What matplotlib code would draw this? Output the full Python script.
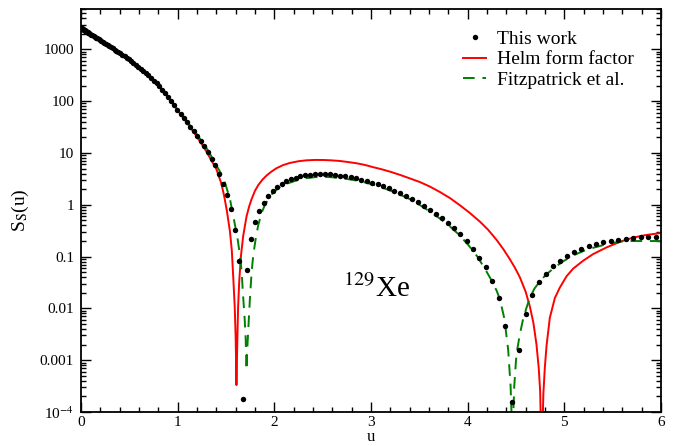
# S_S(u) structure function for 129Xe
import numpy as np
import matplotlib
matplotlib.use('Agg')
import matplotlib.pyplot as plt
from matplotlib.ticker import FixedLocator, LogLocator, MultipleLocator, NullFormatter

plt.rcParams['font.family'] = ['Liberation Serif', 'DejaVu Serif']
plt.rcParams['mathtext.fontset'] = 'stix'

# This work (dots), log10 of S_S(u)
u_dots = [0.0, 0.00027, 0.00107, 0.00241, 0.00429, 0.0067, 0.00965, 0.01313, 0.01715, 0.02171,
          0.0268, 0.03243, 0.03859, 0.04529, 0.05252, 0.0603, 0.0686, 0.07745, 0.08683, 0.09674,
          0.1072, 0.1182, 0.1297, 0.1418, 0.1544, 0.1675, 0.1812, 0.1954, 0.2101, 0.2254,
          0.2412, 0.2575, 0.2744, 0.2918, 0.3098, 0.3283, 0.3473, 0.3669, 0.3870, 0.4076,
          0.4288, 0.4505, 0.4727, 0.4955, 0.5188, 0.5427, 0.5670, 0.5920, 0.6174, 0.6434,
          0.6700, 0.6970, 0.7246, 0.7528, 0.7814, 0.8106, 0.8404, 0.8707, 0.9015, 0.9328,
          0.9647, 0.9971, 1.0301, 1.0636, 1.0976, 1.1322, 1.1673, 1.2030, 1.2391, 1.2759,
          1.3131, 1.3509, 1.3892, 1.4281, 1.4675, 1.5074, 1.5479, 1.5888, 1.6304, 1.6724,
          1.7151, 1.7582, 1.8019, 1.8461, 1.8909, 1.9362, 1.9820, 2.0283, 2.0752, 2.1227,
          2.1706, 2.2191, 2.2682, 2.3178, 2.3679, 2.4185, 2.4697, 2.5214, 2.5737, 2.6265,
          2.6798, 2.7337, 2.7881, 2.8430, 2.8985, 2.9545, 3.0110, 3.0681, 3.1257, 3.1839,
          3.2426, 3.3018, 3.3615, 3.4218, 3.4826, 3.5440, 3.6059, 3.6684, 3.7313, 3.7949,
          3.8589, 3.9235, 3.9886, 4.0543, 4.1205, 4.1872, 4.2545, 4.3223, 4.3906, 4.4594,
          4.5289, 4.5988, 4.6692, 4.7402, 4.8118, 4.8838, 4.9564, 5.0296, 5.1033, 5.1775,
          5.2524, 5.3277, 5.4035, 5.4799, 5.5568, 5.6342, 5.7122, 5.7907, 5.8698, 5.9494]
log_dots = [3.413, 3.413, 3.412, 3.410, 3.408, 3.405, 3.401, 3.397, 3.392, 3.386,
            3.380, 3.373, 3.366, 3.358, 3.349, 3.340, 3.330, 3.319, 3.308, 3.296,
            3.283, 3.270, 3.256, 3.241, 3.226, 3.210, 3.193, 3.176, 3.158, 3.140,
            3.121, 3.101, 3.081, 3.060, 3.038, 3.016, 2.993, 2.970, 2.946, 2.920,
            2.893, 2.864, 2.835, 2.806, 2.772, 2.736, 2.700, 2.662, 2.622, 2.581,
            2.538, 2.495, 2.446, 2.395, 2.344, 2.287, 2.221, 2.154, 2.086, 2.005,
            1.922, 1.838, 1.758, 1.677, 1.596, 1.510, 1.422, 1.332, 1.234, 1.135,
            1.024, 0.892, 0.758, 0.585, 0.396, 0.190, -0.085, -0.490, -1.090, -3.740,
            -1.250, -0.665, -0.340, -0.120, 0.040, 0.163, 0.258, 0.335, 0.400, 0.453,
            0.490, 0.520, 0.547, 0.568, 0.582, 0.590, 0.592, 0.591, 0.585, 0.577,
            0.564, 0.552, 0.533, 0.508, 0.482, 0.457, 0.424, 0.392, 0.354, 0.315,
            0.275, 0.225, 0.163, 0.106, 0.048, -0.030, -0.100, -0.178, -0.264, -0.356,
            -0.458, -0.573, -0.703, -0.847, -1.022, -1.210, -1.463, -1.807, -2.348, -3.815,
            -2.813, -2.113, -1.749, -1.500, -1.332, -1.188, -1.080, -0.985, -0.914, -0.851,
            -0.805, -0.761, -0.723, -0.698, -0.671, -0.652, -0.641, -0.627, -0.621, -0.621]

# Helm form factor
u_helm = [0.0, 0.2, 0.4, 0.6, 0.8, 0.9, 1.0, 1.1, 1.2, 1.3, 1.35, 1.4, 1.45, 1.48, 1.51,
          1.541, 1.56, 1.575, 1.59, 1.600, 1.608, 1.617, 1.625, 1.637, 1.655, 1.678, 1.713,
          1.74, 1.765, 1.80, 1.834, 1.875, 1.92, 1.97, 2.023, 2.09, 2.161, 2.25, 2.334, 2.42,
          2.506, 2.59, 2.678, 2.76, 2.851, 2.94, 3.023, 3.11, 3.195, 3.299, 3.40, 3.506,
          3.61, 3.712, 3.82, 3.919, 4.02, 4.126, 4.21, 4.30, 4.37, 4.436, 4.49, 4.54, 4.60,
          4.643, 4.68, 4.712, 4.735, 4.750, 4.765, 4.783, 4.798, 4.816, 4.850, 4.902, 4.953,
          5.023, 5.091, 5.195, 5.298, 5.436, 5.574, 5.712, 5.850, 6.0]
log_helm = [3.413, 3.17, 2.93, 2.65, 2.30, 2.08, 1.82, 1.575, 1.31, 1.02, 0.85, 0.69, 0.42,
            0.18, -0.13, -0.52, -0.88, -1.40, -1.96, -2.56, -3.48, -2.64, -1.98, -1.47, -0.98,
            -0.60, -0.22, -0.03, 0.11, 0.27, 0.38, 0.48, 0.565, 0.64, 0.706, 0.765, 0.807,
            0.84, 0.858, 0.865, 0.864, 0.857, 0.845, 0.825, 0.801, 0.767, 0.725, 0.685,
            0.640, 0.577, 0.51, 0.438, 0.35, 0.247, 0.125, -0.009, -0.155, -0.325, -0.48,
            -0.68, -0.86, -1.05, -1.22, -1.40, -1.68, -1.96, -2.28, -2.70, -3.15, -3.60,
            -5.0, -3.65, -3.15, -2.72, -2.18, -1.80, -1.60, -1.38, -1.233, -1.08, -0.952,
            -0.824, -0.717, -0.633, -0.583, -0.545]

# Fitzpatrick et al.
u_fitz = [0.0, 0.2, 0.4, 0.6, 0.8, 0.9, 1.0, 1.1, 1.2, 1.3, 1.35, 1.4, 1.45, 1.49, 1.54,
          1.593, 1.62, 1.644, 1.662, 1.678, 1.693, 1.703, 1.712, 1.721, 1.732, 1.748, 1.765,
          1.782, 1.81, 1.834, 1.87, 1.903, 1.95, 1.989, 2.05, 2.127, 2.23, 2.334, 2.42,
          2.506, 2.59, 2.678, 2.76, 2.851, 2.94, 3.023, 3.11, 3.195, 3.299, 3.40, 3.5, 3.6,
          3.7, 3.8, 3.9, 4.0, 4.1, 4.18, 4.25, 4.30, 4.333, 4.38, 4.419, 4.444, 4.455,
          4.463, 4.471, 4.482, 4.50, 4.512, 4.540, 4.574, 4.61, 4.643, 4.69, 4.747, 4.81,
          4.88, 4.98, 5.09, 5.2, 5.3, 5.44, 5.58, 5.7, 5.85, 6.0]
log_fitz = [3.413, 3.17, 2.93, 2.65, 2.31, 2.09, 1.835, 1.60, 1.355, 1.09, 0.93, 0.76, 0.60,
            0.42, 0.12, -0.39, -0.66, -0.97, -1.30, -1.79, -2.20, -2.56, -3.19, -2.75, -2.35,
            -1.79, -1.30, -0.97, -0.62, -0.39, -0.15, 0.0, 0.14, 0.24, 0.33, 0.405, 0.47,
            0.514, 0.532, 0.539, 0.532, 0.514, 0.495, 0.469, 0.43, 0.386, 0.335, 0.277,
            0.195, 0.11, 0.0, -0.12, -0.25, -0.39, -0.56, -0.76, -1.00, -1.24, -1.47, -1.66,
            -1.82, -2.2, -2.80, -3.50, -4.1, -5.0, -4.1, -3.5, -3.0, -2.80, -2.50, -2.20,
            -1.98, -1.80, -1.62, -1.48, -1.35, -1.24, -1.10, -0.98, -0.89, -0.83, -0.76,
            -0.71, -0.70, -0.70, -0.70]

ytick_vals = [1e-4, 1e-3, 1e-2, 1e-1, 1, 10, 100, 1000]
ytick_labels = [r'10$^{-4}$', '0.001', '0.01', '0.1', '1', '10', '100', '1000']

fig = plt.figure(figsize=(6.78, 4.46), dpi=100)
ax = fig.add_axes([81/678, 1 - 412/446, 580/678, 403/446])

ax.plot(u_helm, 10**np.array(log_helm), color='#ff0000', lw=1.4, label='Helm form factor', zorder=2)
ax.plot(u_fitz, 10**np.array(log_fitz), color='#008000', lw=1.4, dashes=(6, 4),
        label='Fitzpatrick et al.', zorder=2)
ax.plot(u_dots, 10**np.array(log_dots), 'o', color='black', ms=3.9, mew=0,
        label='This work', zorder=3)

ax.set_yscale('log')
ax.set_xlim(0, 6)
ax.set_ylim(1e-4, 6000)

ax.xaxis.set_major_locator(MultipleLocator(1))
ax.xaxis.set_minor_locator(MultipleLocator(0.2))
ax.yaxis.set_major_locator(FixedLocator(ytick_vals))
ax.set_yticklabels(ytick_labels)
ax.yaxis.set_minor_locator(LogLocator(base=10, subs=np.arange(2, 10)))
ax.yaxis.set_minor_formatter(NullFormatter())

ax.tick_params(which='both', direction='in', top=True, right=True, labelsize=11, width=1)
ax.tick_params(which='major', length=7, pad=5)
ax.tick_params(axis='x', which='major', pad=3)
ax.tick_params(which='minor', length=3.5)
for s in ax.spines.values():
    s.set_linewidth(1.3)

ax.set_xlabel('u', fontsize=12, labelpad=0)
ax.set_ylabel(r'S$_{\mathrm{S}}$(u)', fontsize=14, labelpad=6)

ax.text(2.71, 0.0168, r'$^{129}$Xe', fontsize=21, ha='left', va='baseline')

h, l = ax.get_legend_handles_labels()
order = [2, 0, 1]
ax.legend([h[i] for i in order], [l[i] for i in order], frameon=False, fontsize=14,
          loc='upper left', bbox_to_anchor=(463/678, 1 - 30/446), bbox_transform=fig.transFigure,
          borderpad=0, borderaxespad=0, handlelength=1.2, handletextpad=0.55,
          labelspacing=0.16, numpoints=1)

fig.savefig('out.png', dpi=100)
